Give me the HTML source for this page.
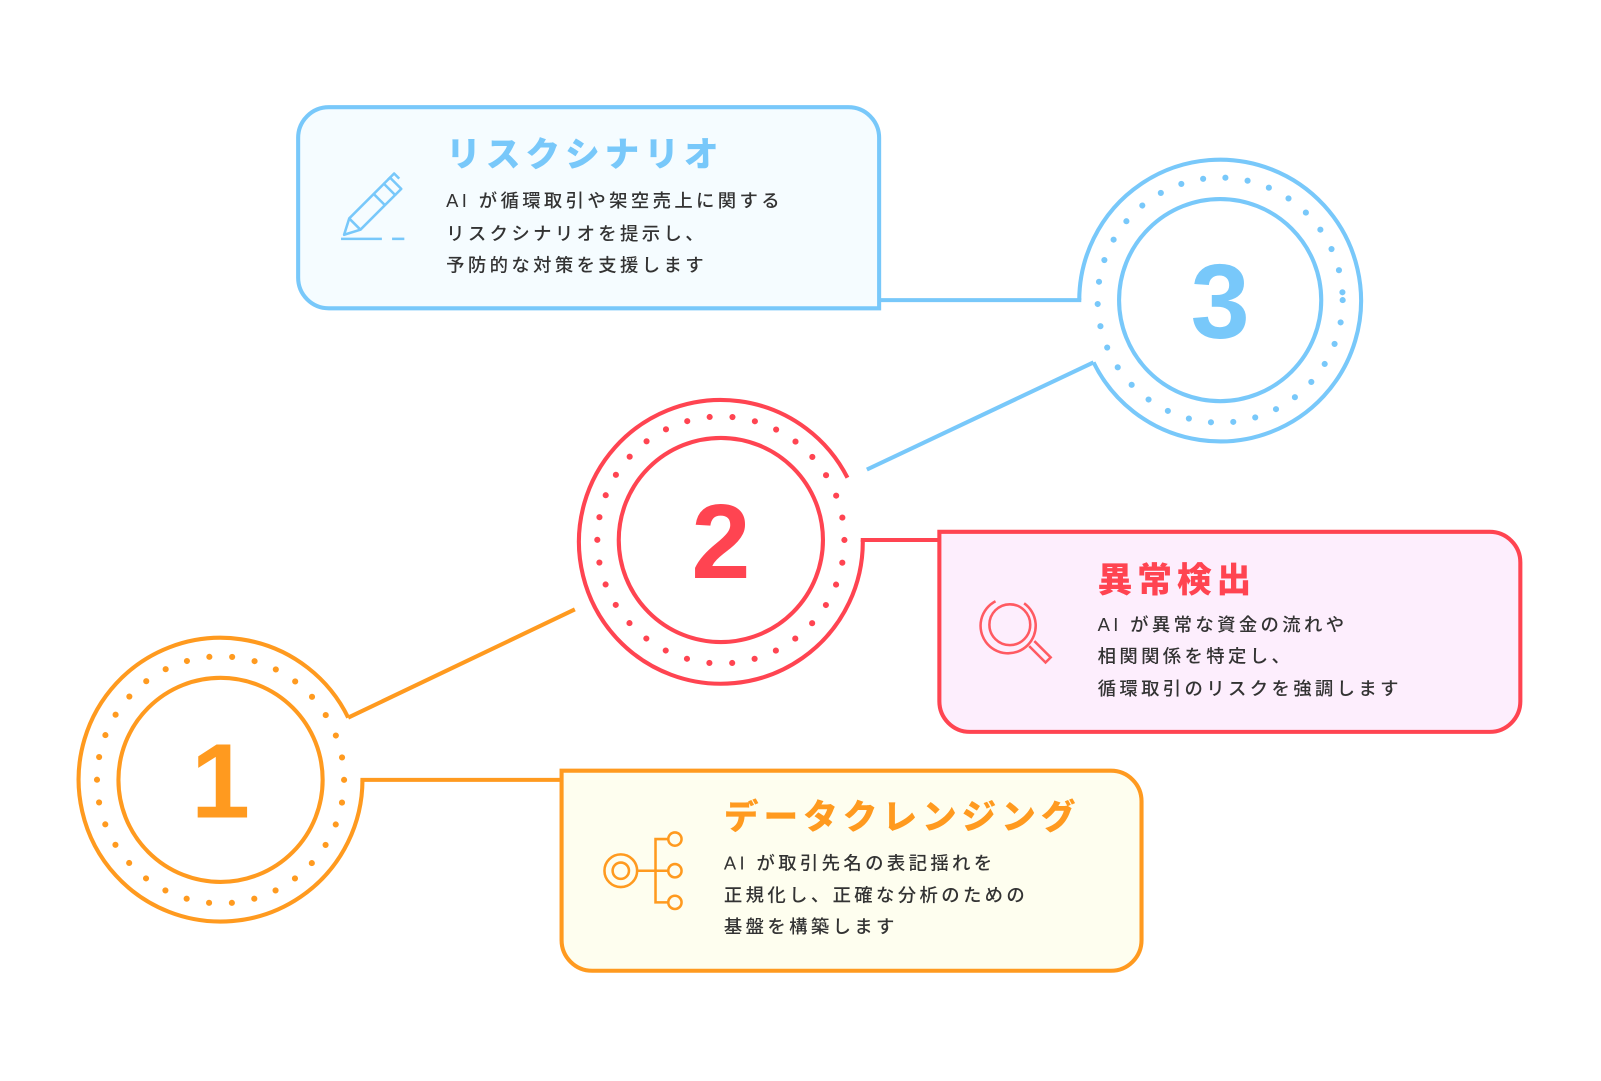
<!DOCTYPE html>
<html><head><meta charset="utf-8"><style>
html,body{margin:0;padding:0;background:#fff;}
svg{display:block;}
.t{font-family:"Liberation Sans","Noto Sans CJK JP",sans-serif;}
.ti{font-size:34px;font-weight:900;letter-spacing:4.8px;}
.b{font-size:18px;fill:#333;letter-spacing:3.3px;font-weight:500;}
.n{font-size:104px;font-weight:900;text-anchor:middle;}
</style></head><body>
<svg width="1601" height="1081" viewBox="0 0 1568 1059" preserveAspectRatio="none" xmlns="http://www.w3.org/2000/svg">
<!-- Blue box -->
<path d="M861 302 H322 A30 30 0 0 1 292 272 V135 A30 30 0 0 1 322 105 H831 A30 30 0 0 1 861 135 Z" fill="#F5FCFF" stroke="#78C8FA" stroke-width="4"/>
<line x1="861" y1="294" x2="1059" y2="294" stroke="#78C8FA" stroke-width="4"/>
<!-- circle 3 -->
<path d="M1057 294 A138 138 0 1 1 1071 355" fill="none" stroke="#78C8FA" stroke-width="4"/>
<circle cx="1195" cy="294" r="99" fill="none" stroke="#78C8FA" stroke-width="4"/>
<circle cx="1195" cy="294" r="120" fill="none" stroke="#78C8FA" stroke-width="6" stroke-linecap="round" stroke-dasharray="0 21.94"/>
<text x="1195" y="331" class="t n" fill="#78C8FA">3</text>
<line x1="1071" y1="355" x2="849" y2="460" stroke="#78C8FA" stroke-width="4"/>
<!-- pink box -->
<path d="M920 521 H1459 A30 30 0 0 1 1489 551 V687 A30 30 0 0 1 1459 717 H950 A30 30 0 0 1 920 687 Z" fill="#FDEEFD" stroke="#FF4451" stroke-width="4"/>
<line x1="843" y1="529" x2="921" y2="529" stroke="#FF4451" stroke-width="4"/>
<!-- circle 2 -->
<path d="M845 529 A139 139 0 1 1 830 468" fill="none" stroke="#FF4451" stroke-width="4"/>
<circle cx="706" cy="529" r="100" fill="none" stroke="#FF4451" stroke-width="4"/>
<circle cx="706" cy="529" r="121" fill="none" stroke="#FF4451" stroke-width="6" stroke-linecap="round" stroke-dasharray="0 22.36"/>
<text x="706" y="566" class="t n" fill="#FF4451">2</text>
<line x1="341" y1="703" x2="563" y2="597" stroke="#FF9A1F" stroke-width="4"/>
<!-- orange box -->
<path d="M550 755 H1088 A30 30 0 0 1 1118 785 V921 A30 30 0 0 1 1088 951 H580 A30 30 0 0 1 550 921 Z" fill="#FEFEEF" stroke="#FF9A1F" stroke-width="4"/>
<line x1="353" y1="764" x2="551" y2="764" stroke="#FF9A1F" stroke-width="4"/>
<!-- circle 1 -->
<path d="M355 764 A139 139 0 1 1 341 703" fill="none" stroke="#FF9A1F" stroke-width="4"/>
<circle cx="216" cy="764" r="100" fill="none" stroke="#FF9A1F" stroke-width="4"/>
<circle cx="216" cy="764" r="121" fill="none" stroke="#FF9A1F" stroke-width="6" stroke-linecap="round" stroke-dasharray="0 22.36"/>
<text x="216" y="801" class="t n" fill="#FF9A1F">1</text>

<!-- texts -->
<g class="t">
<text x="437" y="163" class="ti" fill="#78C8FA">リスクシナリオ</text>
<text x="437" y="203" class="b">AI が循環取引や架空売上に関する</text>
<text x="437" y="235" class="b">リスクシナリオを提示し、</text>
<text x="437" y="266" class="b">予防的な対策を支援します</text>

<text x="1075" y="580" class="ti" fill="#FF4451">異常検出</text>
<text x="1075" y="618" class="b">AI が異常な資金の流れや</text>
<text x="1075" y="649" class="b">相関関係を特定し、</text>
<text x="1075" y="681" class="b">循環取引のリスクを強調します</text>

<text x="709" y="812" class="ti" fill="#FF9A1F">データクレンジング</text>
<text x="709" y="852" class="b">AI が取引先名の表記揺れを</text>
<text x="709" y="883" class="b">正規化し、正確な分析のための</text>
<text x="709" y="914" class="b">基盤を構築します</text>
</g>

<!-- pen icon -->
<g fill="none" stroke="#78C8FA" stroke-width="2.5" stroke-linejoin="round">
<path d="M337 230 L342 214 L376 180 L387 191 L353 225 Z"/>
<path d="M342 214 L353 225"/>
<path d="M366 190 L377 201"/>
<path d="M376 180 L382 174 L393 185 L387 191"/>
<path d="M380 176 L386 170 L391 175"/>
<line x1="334" y1="234" x2="374" y2="234"/>
<line x1="384" y1="234" x2="396" y2="234"/>
</g>
<!-- magnifier -->
<g fill="none" stroke="#FF5A62" stroke-width="2.5">
<circle cx="989" cy="612" r="20"/>
<path d="M1003 591 A27 27 0 1 1 975 589" />
<path d="M1008 633 L1024 649 L1029 644 L1013 628"/>
</g>
<!-- tree icon -->
<g fill="none" stroke="#FF9A1F" stroke-width="2.5">
<circle cx="608" cy="853" r="8"/>
<circle cx="608" cy="853" r="16"/>
<line x1="624" y1="853" x2="654" y2="853"/>
<path d="M655 822 H642 V884 H655"/>
<circle cx="661" cy="822" r="6.5"/>
<circle cx="661" cy="853" r="6.5"/>
<circle cx="661" cy="884" r="6.5"/>
</g>
</svg>
</body></html>
